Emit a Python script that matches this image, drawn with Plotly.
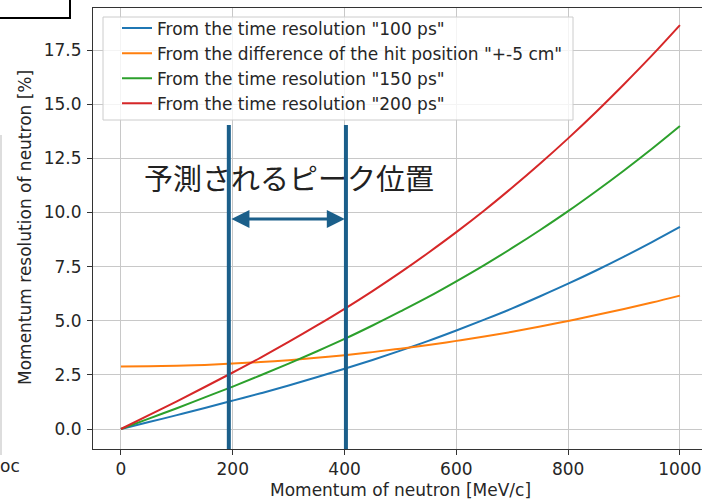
import plotly.graph_objects as go

# Neutron momentum [MeV/c]
momentum = [0, 50, 100, 150, 200, 250, 300, 350, 400, 450, 500,
            550, 600, 650, 700, 750, 800, 850, 900, 950, 1000]

# Momentum resolution [%] for each contribution
res_100ps = [0.00, 0.32, 0.64, 0.97, 1.31, 1.65, 2.01, 2.39, 2.78, 3.19, 3.62,
             4.07, 4.55, 5.05, 5.57, 6.13, 6.71, 7.32, 7.96, 8.63, 9.33]
res_hitpos = [2.89, 2.90, 2.92, 2.96, 3.02, 3.09, 3.18, 3.29, 3.41, 3.55, 3.71,
              3.88, 4.07, 4.27, 4.49, 4.73, 4.99, 5.26, 5.54, 5.84, 6.16]
res_150ps = [0.00, 0.48, 0.96, 1.46, 1.96, 2.48, 3.02, 3.58, 4.16, 4.78, 5.43,
             6.10, 6.82, 7.57, 8.36, 9.19, 10.06, 10.98, 11.94, 12.94, 13.99]
res_200ps = [0.00, 0.64, 1.28, 1.94, 2.61, 3.30, 4.02, 4.77, 5.55, 6.37, 7.23,
             8.14, 9.09, 10.09, 11.15, 12.26, 13.42, 14.64, 15.92, 17.25, 18.65]

series_names = [
    'From the time resolution "100 ps"',
    'From the difference of the hit position "+-5 cm"',
    'From the time resolution "150 ps"',
    'From the time resolution "200 ps"',
]
series_values = [res_100ps, res_hitpos, res_150ps, res_200ps]
series_colors = ["#1f77b4", "#ff7f0e", "#2ca02c", "#d62728"]

x_ticks = [0, 200, 400, 600, 800, 1000]
y_ticks = [0.0, 2.5, 5.0, 7.5, 10.0, 12.5, 15.0, 17.5]
y_tick_text = ["0.0", "2.5", "5.0", "7.5", "10.0", "12.5", "15.0", "17.5"]

# Expected peak window [MeV/c]
peak_low, peak_high = 193, 402.5

FONT = "DejaVu Sans"
TXT = "#262626"
MARK = "#1b5f8a"
FS = 17

fig = go.Figure()
for name, vals, col in zip(series_names, series_values, series_colors):
    fig.add_trace(go.Scatter(
        x=momentum, y=vals, name=name, mode="lines",
        line=dict(color=col, width=2, shape="spline"),
    ))

W, H = 702, 500
L, R, T, B = 93, 0, 8, 51
pw, ph = W - L - R, H - T - B


def px(xp):
    return (xp - L) / pw


def py(yp):
    return (H - B - yp) / ph


shapes = []
# legend frame
shapes.append(dict(type="rect", xref="paper", yref="paper",
                   x0=px(103), x1=px(573), y0=py(120), y1=py(17),
                   line=dict(color="#cccccc", width=1),
                   fillcolor="rgba(255,255,255,0.8)", layer="above"))
# peak window markers
for xv in (peak_low, peak_high):
    shapes.append(dict(type="line", xref="x", yref="y",
                       x0=xv, x1=xv, y0=-0.92, y1=14.04,
                       line=dict(color=MARK, width=4), layer="above"))
# box at the upper left
shapes.append(dict(type="rect", xref="paper", yref="paper",
                   x0=px(-5), x1=px(70), y0=py(18), y1=py(-5),
                   line=dict(color="black", width=2), fillcolor="white"))
# thin rule at the left edge
shapes.append(dict(type="line", xref="paper", yref="paper",
                   x0=px(1), x1=px(1), y0=py(455), y1=py(135),
                   line=dict(color="#bbbbbb", width=1)))

annotations = [
    dict(text="予測されるピーク位置", xref="x", yref="y", x=300.5, y=11.64,
         showarrow=False, font=dict(family="Noto Sans CJK JP", size=29, color="#222222")),
    dict(text="", xref="x", yref="y", axref="x", ayref="y",
         x=peak_high - 2, y=9.70, ax=peak_low + 2, ay=9.70,
         showarrow=True, arrowside="end+start", arrowhead=2, arrowsize=1.2,
         arrowwidth=3, arrowcolor=MARK),
    dict(text="Momentum of neutron [MeV/c]", xref="paper", yref="paper",
         x=px(400), y=py(490), showarrow=False, xanchor="center", yanchor="middle",
         font=dict(family=FONT, size=FS, color=TXT)),
    dict(text="Momentum resolution of neutron [%]", xref="paper", yref="paper",
         x=px(25), y=py(228), showarrow=False, textangle=-90,
         xanchor="center", yanchor="middle",
         font=dict(family=FONT, size=FS, color=TXT)),
    dict(text="oc", xref="paper", yref="paper", x=px(-2), y=py(466),
         showarrow=False, xanchor="left", yanchor="middle",
         font=dict(family=FONT, size=FS, color=TXT)),
]

fig.update_layout(
    width=W, height=H,
    margin=dict(l=L, r=R, t=T, b=B, pad=0),
    paper_bgcolor="white", plot_bgcolor="white",
    font=dict(family=FONT, size=FS, color=TXT),
    showlegend=True,
    legend=dict(x=px(117), y=py(10.5), xanchor="left", yanchor="top",
                bgcolor="rgba(0,0,0,0)", borderwidth=0,
                font=dict(family=FONT, size=FS, color=TXT)),
    shapes=shapes,
    annotations=annotations,
    xaxis=dict(range=[-50, 1039.5], tickvals=x_ticks, ticks="outside", ticklen=5,
               tickcolor="#333333", showline=True, linecolor="#333333", linewidth=1,
               mirror=True, showgrid=True, gridcolor="#c8c8c8", gridwidth=1,
               zeroline=False, tickfont=dict(family=FONT, size=FS, color=TXT)),
    yaxis=dict(range=[-0.923, 19.44], tickvals=y_ticks, ticktext=y_tick_text,
               ticks="outside", ticklen=5, tickcolor="#333333",
               showline=True, linecolor="#333333", linewidth=1, mirror=False,
               showgrid=True, gridcolor="#c8c8c8", gridwidth=1, zeroline=False,
               ticklabelstandoff=2,
               tickfont=dict(family=FONT, size=FS, color=TXT)),
)

fig.write_html("out.html")
